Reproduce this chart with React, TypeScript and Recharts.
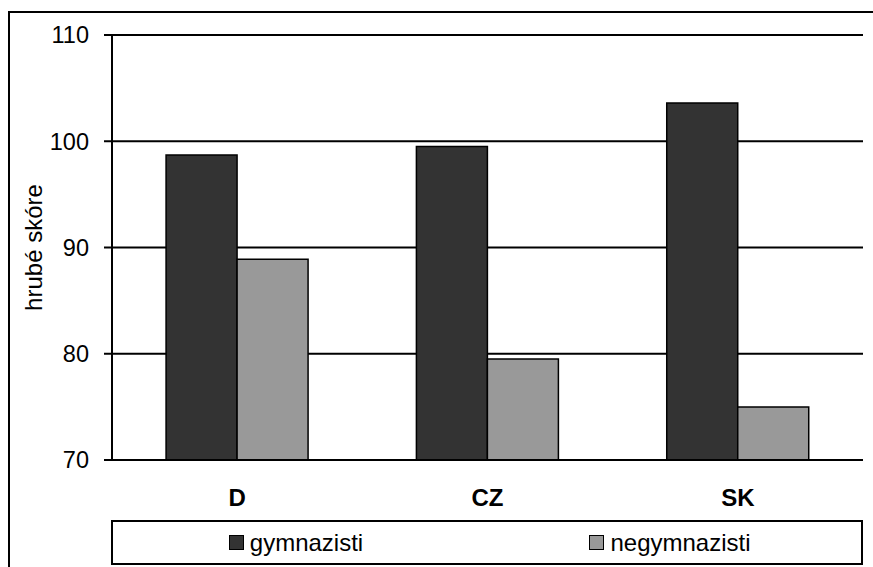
import React from 'react';
import { BarChart, Bar, XAxis, YAxis, CartesianGrid, Legend, ReferenceLine } from 'recharts';

const categories = ['D', 'CZ', 'SK'];
const gymnazisti = [98.7, 99.5, 103.6];
const negymnazisti = [88.9, 79.5, 75.0];
const yTicks = [70, 80, 90, 100, 110];
const boundaryTicks = [0, 1, 2, 3];

const seriesNames = ['gymnazisti', 'negymnazisti'];
const seriesColors = ['#333333', '#999999'];

const data = categories.map((c, i) => ({
  cat: c,
  gymnazisti: gymnazisti[i],
  negymnazisti: negymnazisti[i],
}));

const FONT = "Arial, 'Liberation Sans', sans-serif";

const LegendBox = () => (
  <div
    style={{
      boxSizing: 'border-box',
      height: 45,
      border: '2px solid #000',
      display: 'flex',
      fontFamily: FONT,
      fontSize: 24,
      color: '#000',
      background: '#fff',
    }}
  >
    {seriesNames.map((n, i) => (
      <div
        key={n}
        style={{
          flex: 1,
          display: 'flex',
          alignItems: 'center',
          justifyContent: 'center',
          paddingRight: 8,
        }}
      >
        <span
          style={{
            display: 'inline-block',
            boxSizing: 'border-box',
            width: 15,
            height: 15,
            background: seriesColors[i],
            border: '1.5px solid #000',
            marginRight: 6,
          }}
        />
        <span>{n}</span>
      </div>
    ))}
  </div>
);

const YTitle = (props: any) => {
  const vb = props.viewBox || { x: 0, y: 0, height: 0 };
  const x = vb.x + 42;
  const y = vb.y + vb.height / 2;
  return (
    <text
      x={x}
      y={y}
      transform={`rotate(-90, ${x}, ${y})`}
      textAnchor="middle"
      fontFamily={FONT}
      fontSize={24}
      fill="#000"
    >
      hrubé skóre
    </text>
  );
};

export default function App() {
  return (
    <div
      style={{
        position: 'fixed',
        left: 0,
        top: 0,
        width: 873,
        height: 567,
        overflow: 'hidden',
        background: '#fff',
      }}
    >
      <div
        style={{
          position: 'absolute',
          left: 8,
          top: 11,
          width: 900,
          height: 600,
          border: '2px solid #000',
        }}
      />
      <div style={{ position: 'absolute', left: 0, top: 0 }}>
        <BarChart
          width={873}
          height={567}
          data={data}
          margin={{ top: 35, right: 10, left: 0, bottom: 2 }}
          barCategoryGap="21.6%"
          barGap={0}
        >
          <CartesianGrid vertical={false} stroke="#000" strokeWidth={2} />
          <XAxis
            xAxisId="bounds"
            type="number"
            domain={[0, 3]}
            ticks={boundaryTicks}
            height={0}
            tick={false}
            axisLine={false}
            tickSize={8}
            tickLine={{ stroke: '#000', strokeWidth: 2 }}
          />
          <XAxis
            dataKey="cat"
            height={60}
            tickSize={0}
            tickMargin={29}
            tickLine={false}
            axisLine={{ stroke: '#000', strokeWidth: 2 }}
            tick={{ fontFamily: FONT, fontSize: 24, fontWeight: 'bold', fill: '#000' }}
          />
          <YAxis
            domain={[70, 110]}
            ticks={yTicks}
            width={112}
            tickSize={8}
            tickMargin={15}
            interval={0}
            axisLine={{ stroke: '#000', strokeWidth: 2 }}
            tickLine={{ stroke: '#000', strokeWidth: 2 }}
            tick={{ fontFamily: FONT, fontSize: 23.5, fill: '#000' }}
            label={<YTitle />}
          />
          <ReferenceLine x={3} xAxisId="bounds" stroke="#333" strokeWidth={2} />
          <Legend
            verticalAlign="bottom"
            content={<LegendBox />}
            wrapperStyle={{ left: 111, width: 752 }}
          />
          <Bar
            dataKey="gymnazisti"
            fill={seriesColors[0]}
            stroke="#000"
            strokeWidth={1.5}
            isAnimationActive={false}
          />
          <Bar
            dataKey="negymnazisti"
            fill={seriesColors[1]}
            stroke="#000"
            strokeWidth={1.5}
            isAnimationActive={false}
          />
        </BarChart>
      </div>
    </div>
  );
}
